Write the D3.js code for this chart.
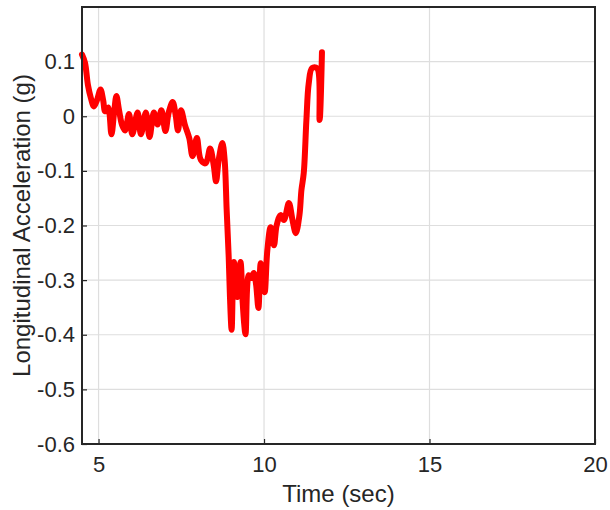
<!DOCTYPE html>
<html><head><meta charset="utf-8">
<script src="https://cdn.jsdelivr.net/npm/d3@7"></script>
<style>body{margin:0;background:#fff;} svg{display:block;}</style>
</head><body>
<script>
const xTicks = [5, 10, 15, 20];
const yTicks = [0.1, 0, -0.1, -0.2, -0.3, -0.4, -0.5, -0.6];
const time = [4.50,4.59,4.68,4.77,4.86,4.95,5.06,5.14,5.20,5.29,5.39,5.47,5.54,5.62,5.71,5.80,5.92,6.02,6.18,6.28,6.43,6.54,6.67,6.78,6.90,7.02,7.12,7.24,7.33,7.40,7.49,7.61,7.74,7.84,7.97,8.09,8.24,8.37,8.48,8.55,8.63,8.74,8.81,8.87,8.93,8.97,9.02,9.06,9.09,9.14,9.19,9.24,9.29,9.35,9.40,9.44,9.54,9.61,9.69,9.76,9.83,9.90,9.97,10.02,10.10,10.20,10.30,10.38,10.50,10.60,10.75,10.86,10.96,11.07,11.13,11.20,11.28,11.35,11.45,11.60,11.68,11.75];
const accel = [0.113,0.098,0.057,0.033,0.018,0.029,0.049,0.029,0.009,0.016,-0.033,0.007,0.037,0.011,-0.016,-0.026,0.004,-0.033,0.007,-0.033,0.007,-0.038,0.007,-0.015,0.011,-0.027,0.007,0.026,0.002,-0.026,0.011,-0.016,-0.040,-0.073,-0.040,-0.080,-0.086,-0.059,-0.090,-0.119,-0.080,-0.049,-0.080,-0.170,-0.254,-0.330,-0.391,-0.300,-0.267,-0.318,-0.331,-0.290,-0.267,-0.336,-0.380,-0.399,-0.291,-0.296,-0.287,-0.308,-0.351,-0.269,-0.300,-0.322,-0.245,-0.203,-0.236,-0.200,-0.181,-0.190,-0.159,-0.190,-0.214,-0.181,-0.135,-0.104,-0.007,0.060,0.088,0.088,-0.007,0.117];
const data = time.map((t,i)=>({t, v: accel[i]}));

const W = 610, H = 510;
const m = {left: 82, right: 15, top: 7, bottom: 66};
const svg = d3.select("body").append("svg").attr("width", W).attr("height", H)
  .style("font-family", "'Liberation Sans', Arial, sans-serif");
const x = d3.scaleLinear().domain([4.5, 20]).range([m.left, W - m.right]);
const y = d3.scaleLinear().domain([-0.6, 0.2]).range([H - m.bottom, m.top]);
const iw = W - m.left - m.right, ih = H - m.top - m.bottom;

// grid
const g = svg.append("g");
g.selectAll(".gx").data(xTicks).enter().append("line")
  .attr("x1", d => x(d)).attr("x2", d => x(d)).attr("y1", y(-0.6)).attr("y2", y(0.2))
  .attr("stroke", "#dedede").attr("stroke-width", 1.2);
g.selectAll(".gy").data(yTicks).enter().append("line")
  .attr("x1", x(4.5)).attr("x2", x(20)).attr("y1", d => y(d)).attr("y2", d => y(d))
  .attr("stroke", "#dedede").attr("stroke-width", 1.2);

// axes
const fmtY = d => d === 0 ? "0" : (d < 0 ? "-" : "") + Math.abs(d).toFixed(1);
const xAxis = d3.axisBottom(x).tickValues(xTicks).tickSizeInner(-5).tickSizeOuter(0).tickPadding(12).tickFormat(d3.format("d"));
const yAxis = d3.axisLeft(y).tickValues(yTicks).tickSizeInner(-5).tickSizeOuter(0).tickPadding(7).tickFormat(fmtY);
const ax = svg.append("g").attr("transform", `translate(0,${H - m.bottom})`).call(xAxis);
const ay = svg.append("g").attr("transform", `translate(${m.left},0)`).call(yAxis);
[ax, ay].forEach(a => {
  a.select(".domain").remove();
  a.selectAll(".tick line").attr("stroke", "#262626").attr("stroke-width", 1.2);
  a.selectAll(".tick text").attr("fill", "#262626").style("font-size", "22px");
});

// data line
svg.append("path").datum(data)
  .attr("fill", "none").attr("stroke", "#ff0000").attr("stroke-width", 6)
  .attr("stroke-linejoin", "round").attr("stroke-linecap", "round")
  .attr("d", d3.line().x(d => x(d.t)).y(d => y(d.v)).curve(d3.curveCatmullRom.alpha(0.5)));

// box
svg.append("rect").attr("x", m.left).attr("y", m.top).attr("width", iw).attr("height", ih)
  .attr("fill", "none").attr("stroke", "#262626").attr("stroke-width", 2);

// labels
svg.append("text").attr("x", x(12.25)).attr("y", 502).attr("text-anchor", "middle")
  .attr("fill", "#262626").style("font-size", "24px").text("Time (sec)");
svg.append("text").attr("transform", `translate(30,${y(-0.2)}) rotate(-90)`).attr("text-anchor", "middle")
  .attr("fill", "#262626").style("font-size", "24px").text("Longitudinal Acceleration (g)");
</script>
</body></html>
